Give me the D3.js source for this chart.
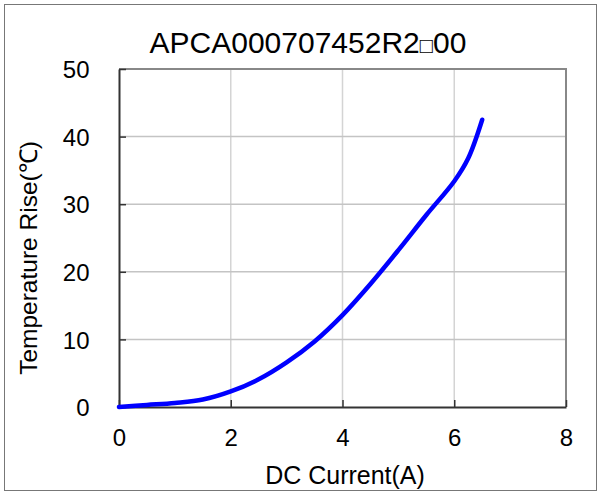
<!DOCTYPE html>
<html>
<head>
<meta charset="utf-8">
<script src="https://cdn.jsdelivr.net/npm/d3@7"></script>
<style>
  body { margin: 0; background: #fff; }
  svg text { font-family: "Liberation Sans", Arial, sans-serif; fill: #000; }
</style>
</head>
<body>
<div id="chart"></div>
<script>
// values
var current = [0, 0.5, 1, 1.5, 2, 2.5, 3, 3.5, 4, 4.5, 5, 5.5, 6, 6.25, 6.5];
var tempRise = [0, 0.3, 0.6, 1.1, 2.3, 4.1, 6.6, 9.7, 13.6, 18.2, 23.2, 28.4, 33.4, 36.8, 42.5];
var xTicks = [0, 2, 4, 6, 8];
var yTicks = [0, 10, 20, 30, 40, 50];
var titleParts = ["APCA000707452R2", "\u25A1", "00"];

var W = 601, H = 495;
var margin = {top: 69, right: 35, bottom: 88, left: 119};
var width = W - margin.left - margin.right,
    height = H - margin.top - margin.bottom;

var svg = d3.select("#chart").append("svg")
    .attr("width", W)
    .attr("height", H);

// outer frame
svg.append("rect")
    .attr("x", 4.5).attr("y", 4.5)
    .attr("width", W - 9).attr("height", H - 9)
    .attr("fill", "none").attr("stroke", "#777").attr("stroke-width", 1);

var g = svg.append("g")
    .attr("transform", "translate(" + margin.left + "," + margin.top + ")");

var x = d3.scaleLinear().domain([0, 8]).range([0, width]);
var y = d3.scaleLinear().domain([0, 50]).range([height, 0]);

// grid
g.selectAll(".vgrid").data(xTicks.slice(1, -1)).enter().append("line")
    .attr("x1", d => x(d)).attr("x2", d => x(d))
    .attr("y1", 0).attr("y2", height)
    .attr("stroke", "#d4d4d4").attr("stroke-width", 1.5);
g.selectAll(".hgrid").data(yTicks.slice(1, -1)).enter().append("line")
    .attr("x1", 0).attr("x2", width)
    .attr("y1", d => y(d)).attr("y2", d => y(d))
    .attr("stroke", "#c4c4c4").attr("stroke-width", 1.5);

// top / right frame
g.append("path")
    .attr("d", "M0,0H" + width + "V" + height)
    .attr("fill", "none").attr("stroke", "#888").attr("stroke-width", 2);

// axes, ticks pointing inward
var xAxis = g.append("g")
    .attr("transform", "translate(0," + height + ")")
    .call(d3.axisBottom(x).tickValues(xTicks).tickSize(-7).tickPadding(22).tickSizeOuter(0));
var yAxis = g.append("g")
    .call(d3.axisLeft(y).tickValues(yTicks).tickSize(-7).tickPadding(29.5).tickSizeOuter(0));

[xAxis, yAxis].forEach(function(a) {
    a.select(".domain").attr("stroke", "#333").attr("stroke-width", 2);
    a.selectAll(".tick line").attr("stroke", "#333").attr("stroke-width", 1.5);
    a.selectAll(".tick text").style("font-size", "24px").attr("fill", "#000");
});
yAxis.selectAll(".tick text").attr("dy", "0.36em");

// curve
var pts = current.map((c, i) => [c, tempRise[i]]);
g.append("path")
    .datum(pts)
    .attr("d", d3.line().x(d => x(d[0])).y(d => y(d[1])).curve(d3.curveCatmullRom))
    .attr("fill", "none")
    .attr("stroke", "#0000ff")
    .attr("stroke-width", 4.5)
    .attr("stroke-linecap", "round");

// labels
var t = svg.append("text")
    .attr("x", 308).attr("y", 53)
    .attr("text-anchor", "middle")
    .style("font-size", "30px");
t.append("tspan").text(titleParts[0]);
t.append("tspan").style("font-size", "22px").text(titleParts[1]);
t.append("tspan").text(titleParts[2]);

svg.append("text")
    .attr("x", 345).attr("y", 484)
    .attr("text-anchor", "middle")
    .style("font-size", "25px")
    .text("DC Current(A)");

svg.append("text")
    .attr("transform", "translate(37,258) rotate(-90)")
    .attr("text-anchor", "middle")
    .style("font-size", "24.5px")
    .text("Temperature Rise(\u2103)");
</script>
</body>
</html>
